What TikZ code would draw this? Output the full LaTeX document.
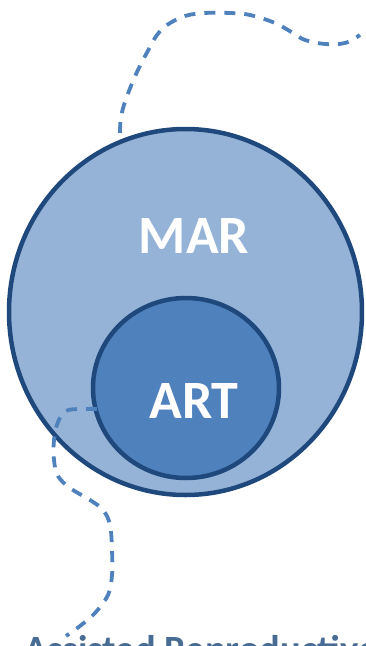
\documentclass[tikz,border=0pt]{standalone}
\usepackage{fontspec}
\setmainfont{Carlito}
\usepackage{tikz}
\usetikzlibrary{shapes.geometric,positioning}
\definecolor{marfill}{RGB}{149,179,215}
\definecolor{artfill}{RGB}{79,129,189}
\definecolor{rimblue}{RGB}{31,73,125}
\definecolor{trailblue}{RGB}{79,129,189}
\definecolor{slateblue}{RGB}{72,108,148}
\tikzset{
  setbox/.style={ellipse,draw=rimblue,line width=4.5pt,fill=#1,inner sep=0pt},
  setlabel/.style={text=white,font=\fontsize{54}{60}\selectfont\bfseries},
}

\begin{document}
\begin{tikzpicture}[
    x=1pt,y=-1pt,
    trail/.style={draw=trailblue,line width=3.8pt,dash pattern=on 11pt off 9pt},
  ]
    \clip (0,0) rectangle (365,646);
    % Sets
    \node[setbox=marfill,minimum width=353pt,minimum height=366pt] (mar) at (185.5,312) {};
    \node[setbox=artfill,minimum width=186pt,minimum height=180pt] (art) at (186,388) {};
    \node[setlabel] (marlbl) at (194,236) {MAR};
    \node[setlabel] (artlbl) at (194,401) {ART};
    % Trails
    \coordinate (topstart) at (120,133);
    \coordinate (lowstart) at (97,409);
    \draw[trail] plot[smooth,tension=0.6] coordinates {(topstart) (121,117) (126,99) (137,72)
      (150,47) (157,35) (167,25) (185,16) (205,13) (230,13) (250,15) (275,23) (293,33)
      (305,40) (325,44) (345,43) (360,35)};
    \draw[trail] plot[smooth,tension=0.6] coordinates {(lowstart) (80,409) (66,411) (58,422)
      (54,440) (54,460) (58,476) (70,488) (90,500) (103,510) (110,525) (112,550) (112,575)
      (108,595) (95,613) (80,626) (66,636)};
    % Caption (cut off at the bottom)
    \node[anchor=base west,inner sep=0pt,text=slateblue,font=\fontsize{38.6}{44}\selectfont\bfseries] (caption) at (24,662) {Assisted Reproductive Technology};
  \end{tikzpicture}
\end{document}
